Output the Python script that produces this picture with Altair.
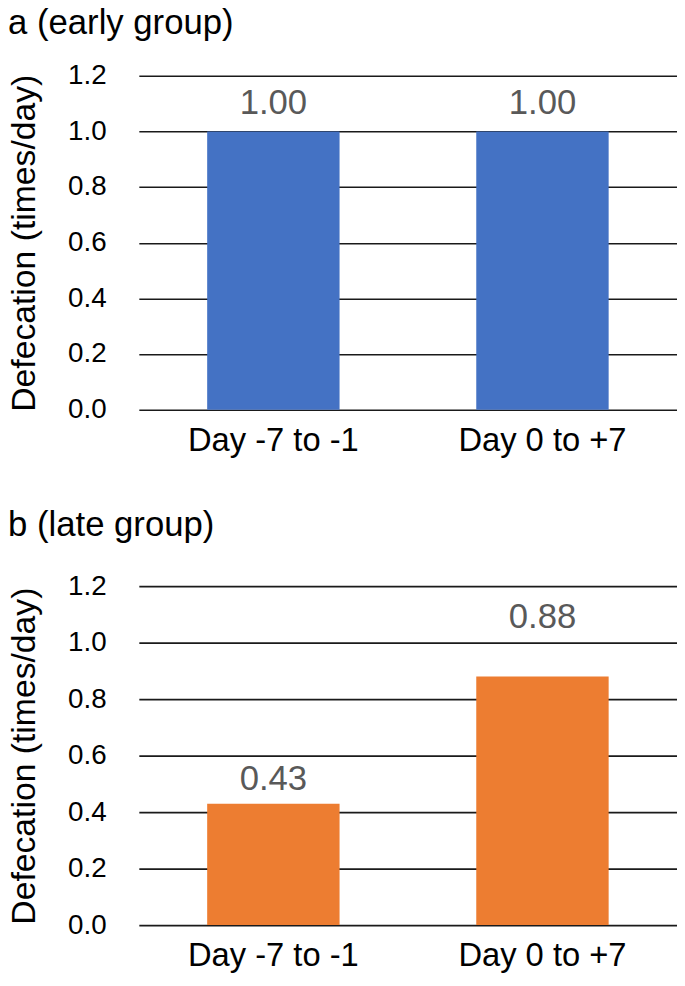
import altair as alt
import pandas as pd

categories = ["Day -7 to -1", "Day 0 to +7"]
early_values = [1.00, 1.00]
late_values = [0.43, 0.88]
y_ticks = [0.0, 0.2, 0.4, 0.6, 0.8, 1.0, 1.2]
panel_titles = ["a (early group)", "b (late group)"]
y_title = "Defecation (times/day)"
bar_colors = ["#4472C4", "#ED7D31"]

FONT = "Liberation Sans"


def panel(values, color, title, height, label_dys, title_offset):
    df = pd.DataFrame({
        "period": categories,
        "value": values,
        "label": [f"{v:.2f}" for v in values],
    })
    base = alt.Chart(df).encode(
        x=alt.X(
            "period:N", sort=categories, title=None,
            scale=alt.Scale(paddingInner=0.508, paddingOuter=0.254),
            axis=alt.Axis(labelAngle=0, domain=False, ticks=False,
                          labelFontSize=33, labelColor="black",
                          labelFont=FONT, labelPadding=15),
        ),
        y=alt.Y(
            "value:Q", title=y_title,
            scale=alt.Scale(domain=[0, 1.2], nice=False),
            axis=alt.Axis(values=y_ticks, format=".1f", domain=False,
                          ticks=False, grid=True, gridColor="#1a1a1a",
                          gridWidth=1.6, labelFontSize=28,
                          labelColor="black", labelFont=FONT,
                          labelPadding=33, titleFontSize=34,
                          titleFont=FONT, titleFontWeight="normal",
                          titleColor="black", titlePadding=26),
        ),
    )
    bars = base.mark_bar(color=color)
    layers = [bars]
    for cat, dy in zip(categories, label_dys):
        layers.append(
            base.transform_filter(alt.datum.period == cat)
            .mark_text(font=FONT, fontSize=35, color="#595959",
                       baseline="middle", dy=dy)
            .encode(text="label:N")
        )
    return alt.layer(*layers).properties(
        width=543, height=height,
        title=alt.TitleParams(title, anchor="start", frame="bounds",
                              fontSize=35, font=FONT, fontWeight="normal",
                              color="black", offset=title_offset),
    )


chart_a = panel(early_values, bar_colors[0], panel_titles[0], 337, [-29, -29], 21)
chart_b = panel(late_values, bar_colors[1], panel_titles[1], 342, [-25, -60], 30)

chart = alt.vconcat(chart_a, chart_b, spacing=51).properties(
    padding={"left": 0, "top": -6, "right": 0, "bottom": 0}
).configure_view(stroke=None)

chart.save("out.html", embed_options={"renderer": "svg", "actions": False})
